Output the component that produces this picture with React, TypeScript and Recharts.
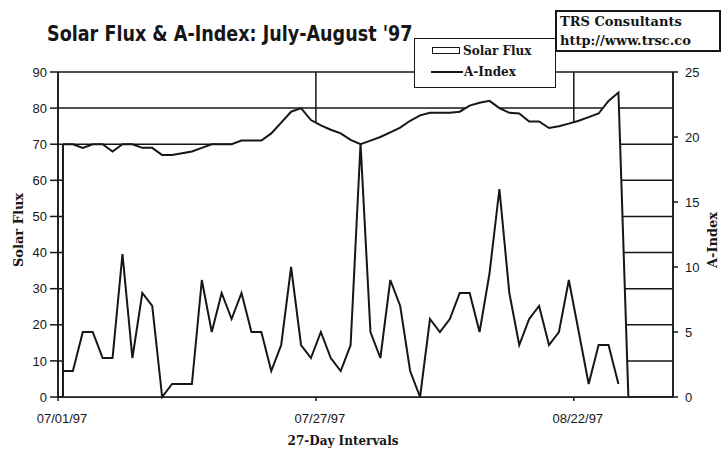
import React from 'react';
import {
  ComposedChart,
  Area,
  Line,
  XAxis,
  YAxis,
  CartesianGrid,
  ReferenceLine,
} from 'recharts';

// one entry per day, 07/01/97 .. 08/27/97
const dates = [
  '07/01/97', '07/02/97', '07/03/97', '07/04/97', '07/05/97', '07/06/97', '07/07/97', '07/08/97',
  '07/09/97', '07/10/97', '07/11/97', '07/12/97', '07/13/97', '07/14/97', '07/15/97', '07/16/97',
  '07/17/97', '07/18/97', '07/19/97', '07/20/97', '07/21/97', '07/22/97', '07/23/97', '07/24/97',
  '07/25/97', '07/26/97', '07/27/97', '07/28/97', '07/29/97', '07/30/97', '07/31/97', '08/01/97',
  '08/02/97', '08/03/97', '08/04/97', '08/05/97', '08/06/97', '08/07/97', '08/08/97', '08/09/97',
  '08/10/97', '08/11/97', '08/12/97', '08/13/97', '08/14/97', '08/15/97', '08/16/97', '08/17/97',
  '08/18/97', '08/19/97', '08/20/97', '08/21/97', '08/22/97', '08/23/97', '08/24/97', '08/25/97',
  '08/26/97', '08/27/97',
];

const solarFlux = [
  70, 70, 69, 70, 70, 68, 70, 70, 69, 69,
  67, 67, 67.5, 68, 69, 70, 70, 70, 71, 71,
  71, 73, 76, 79, 80, 76.7, 75.2, 74, 73, 71.2,
  70, 71, 72, 73.3, 74.6, 76.5, 78, 78.7, 78.7, 78.7,
  79, 80.7, 81.5, 82, 80, 78.7, 78.5, 76.3, 76.3, 74.5,
  75, 75.7, 76.5, 77.5, 78.5, 82, 84.3, 0,
];

const aIndex = [
  2, 2, 5, 5, 3, 3, 11, 3, 8, 7,
  0, 1, 1, 1, 9, 5, 8, 6, 8, 5,
  5, 2, 4, 10, 4, 3, 5, 3, 2, 4,
  19.5, 5, 3, 9, 7, 2, 0, 6, 5, 6,
  8, 8, 5, 9.5, 16, 8, 4, 6, 7, 4,
  5, 9, 5, 1, 4, 4, 1,
];

const tickDates = ['07/01/97', '07/27/97', '08/22/97'];
const fluxTicks = [0, 10, 20, 30, 40, 50, 60, 70, 80, 90];
const aIndexTicks = [0, 5, 10, 15, 20, 25];

const INK = '#161616';
const sans = '"Liberation Sans", Arial, sans-serif';
const serif = '"DejaVu Serif", "Liberation Serif", serif';

export default function App() {
  const data = dates.map((date, i) => ({
    day: i,
    date,
    flux: solarFlux[i],
    aIndex: i < aIndex.length ? aIndex[i] : null,
  }));
  // category boundaries (Excel style): tick sits half a day before the point
  const xTicks = tickDates.map((d) => dates.indexOf(d) - 0.5);
  const tickStyle = { fill: INK, fontSize: 13, fontFamily: sans };

  return (
    <div style={{ position: 'absolute', left: 0, top: 0, width: 722, height: 449, background: '#fff' }}>
      <ComposedChart
        width={722}
        height={449}
        data={data}
        margin={{ top: 72, right: 0, bottom: 22, left: 18 }}
      >
        <CartesianGrid yAxisId="left" stroke={INK} strokeWidth={1.5} />
        <XAxis
          dataKey="day"
          type="number"
          domain={[-0.5, 61.5]}
          ticks={xTicks}
          tickFormatter={(v: number) => dates[v + 0.5]}
          height={30}
          tickSize={4}
          tickMargin={13}
          tick={{ ...tickStyle, dx: 4 }}
          stroke={INK}
          strokeWidth={1.5}
        />
        <YAxis
          yAxisId="left"
          domain={[0, 90]}
          ticks={fluxTicks}
          width={40}
          tickSize={8}
          tickMargin={3}
          tick={tickStyle}
          stroke={INK}
          strokeWidth={1.5}
        />
        <YAxis
          yAxisId="right"
          orientation="right"
          domain={[0, 25]}
          ticks={aIndexTicks}
          width={49}
          tickSize={5}
          tickMargin={7}
          tick={{ ...tickStyle, textAnchor: 'start' }}
          stroke={INK}
          strokeWidth={1.5}
        />
        <Area
          yAxisId="left"
          type="linear"
          dataKey="flux"
          stroke={INK}
          strokeWidth={2}
          fill="#fff"
          fillOpacity={1}
          dot={false}
          activeDot={false}
          isAnimationActive={false}
        />
        {/* closing edge of the area on the first day */}
        <ReferenceLine
          yAxisId="left"
          segment={[{ x: 0, y: 0 }, { x: 0, y: solarFlux[0] }]}
          stroke={INK}
          strokeWidth={2}
        />
        <Line
          yAxisId="right"
          type="linear"
          dataKey="aIndex"
          stroke={INK}
          strokeWidth={2}
          dot={false}
          activeDot={false}
          isAnimationActive={false}
        />
      </ComposedChart>

      {/* title */}
      <div
        style={{
          position: 'absolute', left: 47, top: 24, fontSize: 21, lineHeight: '21px', fontWeight: 'bold',
          fontFamily: '"Liberation Sans Narrow", "DejaVu Sans Condensed", Arial, sans-serif',
          color: INK, whiteSpace: 'nowrap', transform: 'scaleX(0.93)', transformOrigin: 'left center',
        }}
      >
        Solar Flux &amp; A-Index: July-August '97
      </div>

      {/* legend */}
      <div
        style={{
          position: 'absolute', left: 414, top: 38, width: 140, height: 48, background: '#fff',
          border: `1px solid ${INK}`, fontFamily: serif, fontWeight: 'bold', fontSize: 12, color: INK,
        }}
      >
        <div style={{ position: 'absolute', left: 17, top: 8, width: 26, height: 5, border: `1.5px solid ${INK}`, background: '#fff' }} />
        <div style={{ position: 'absolute', left: 48, top: 4, whiteSpace: 'nowrap', lineHeight: '16px' }}>Solar Flux</div>
        <div style={{ position: 'absolute', left: 16, top: 32, width: 32, height: 2, background: INK }} />
        <div style={{ position: 'absolute', left: 49, top: 25, whiteSpace: 'nowrap', lineHeight: '16px' }}>A-Index</div>
      </div>

      {/* consultant box */}
      <div
        style={{
          position: 'absolute', left: 555, top: 10, width: 159, height: 38, background: '#fff',
          border: `2px solid ${INK}`, fontFamily: serif, fontWeight: 'bold', fontSize: 13, color: INK,
          lineHeight: '19px', padding: '0 0 0 3px', whiteSpace: 'nowrap', boxSizing: 'content-box',
        }}
      >
        <div>TRS Consultants</div>
        <div>http://www.trsc.co</div>
      </div>

      {/* axis titles */}
      <div
        style={{
          position: 'absolute', left: 18, top: 230, transform: 'translate(-50%, -50%) rotate(-90deg)',
          fontFamily: serif, fontWeight: 'bold', fontSize: 13, color: INK, whiteSpace: 'nowrap',
        }}
      >
        Solar Flux
      </div>
      <div
        style={{
          position: 'absolute', left: 712, top: 240, transform: 'translate(-50%, -50%) rotate(-90deg)',
          fontFamily: serif, fontWeight: 'bold', fontSize: 13, color: INK, whiteSpace: 'nowrap',
        }}
      >
        A-Index
      </div>
      <div
        style={{
          position: 'absolute', left: 343, top: 441, transform: 'translate(-50%, -50%)',
          fontFamily: serif, fontWeight: 'bold', fontSize: 12, color: INK, whiteSpace: 'nowrap',
        }}
      >
        27-Day Intervals
      </div>
    </div>
  );
}
